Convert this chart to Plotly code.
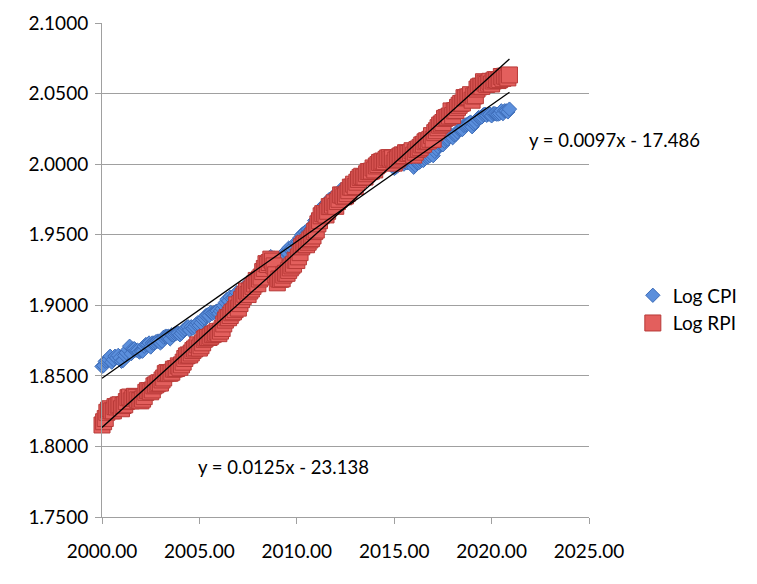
import numpy as np
import plotly.graph_objects as go

# Monthly observations, Jan 2000 .. Dec 2020 (one row per year)
years = list(range(2000, 2021))

log_cpi = [
    1.8567, 1.8573, 1.8603, 1.8609, 1.8615, 1.8639, 1.8597, 1.8615, 1.8639, 1.8627, 1.8645, 1.8627,
    1.8603, 1.8609, 1.8645, 1.8663, 1.8686, 1.8710, 1.8657, 1.8692, 1.8692, 1.8681, 1.8681, 1.8669,
    1.8675, 1.8675, 1.8710, 1.8722, 1.8722, 1.8733, 1.8704, 1.8733, 1.8733, 1.8739, 1.8745, 1.8745,
    1.8733, 1.8745, 1.8774, 1.8780, 1.8780, 1.8780, 1.8762, 1.8791, 1.8791, 1.8797, 1.8802, 1.8802,
    1.8791, 1.8802, 1.8820, 1.8831, 1.8842, 1.8848, 1.8825, 1.8848, 1.8837, 1.8848, 1.8865, 1.8876,
    1.8859, 1.8876, 1.8899, 1.8910, 1.8927, 1.8932, 1.8927, 1.8949, 1.8943, 1.8949, 1.8954, 1.8960,
    1.8943, 1.8960, 1.8976, 1.8998, 1.9020, 1.9042, 1.9031, 1.9058, 1.9047, 1.9053, 1.9069, 1.9090,
    1.9058, 1.9080, 1.9106, 1.9117, 1.9128, 1.9143, 1.9112, 1.9133, 1.9122, 1.9143, 1.9159, 1.9180,
    1.9154, 1.9186, 1.9212, 1.9243, 1.9269, 1.9304, 1.9299, 1.9335, 1.9345, 1.9335, 1.9335, 1.9315,
    1.9284, 1.9320, 1.9335, 1.9340, 1.9365, 1.9380, 1.9375, 1.9405, 1.9395, 1.9400, 1.9415, 1.9440,
    1.9435, 1.9450, 1.9479, 1.9499, 1.9509, 1.9518, 1.9509, 1.9538, 1.9528, 1.9538, 1.9557, 1.9600,
    1.9605, 1.9638, 1.9647, 1.9690, 1.9699, 1.9699, 1.9694, 1.9727, 1.9750, 1.9750, 1.9759, 1.9777,
    1.9759, 1.9782, 1.9796, 1.9818, 1.9818, 1.9800, 1.9805, 1.9832, 1.9845, 1.9868, 1.9877, 1.9895,
    1.9877, 1.9903, 1.9917, 1.9921, 1.9934, 1.9926, 1.9926, 1.9948, 1.9961, 1.9961, 1.9965, 1.9983,
    1.9956, 1.9978, 1.9987, 2.0000, 2.0000, 2.0009, 1.9996, 2.0013, 2.0013, 2.0017, 2.0009, 2.0004,
    1.9970, 1.9978, 1.9987, 1.9996, 2.0004, 2.0009, 2.0000, 2.0013, 2.0009, 2.0013, 2.0013, 2.0013,
    1.9978, 1.9991, 2.0009, 2.0009, 2.0017, 2.0026, 2.0026, 2.0039, 2.0048, 2.0052, 2.0060, 2.0078,
    2.0060, 2.0090, 2.0107, 2.0124, 2.0141, 2.0141, 2.0137, 2.0162, 2.0175, 2.0179, 2.0195, 2.0208,
    2.0187, 2.0208, 2.0212, 2.0228, 2.0245, 2.0245, 2.0245, 2.0274, 2.0278, 2.0282, 2.0290, 2.0298,
    2.0265, 2.0286, 2.0294, 2.0318, 2.0330, 2.0330, 2.0334, 2.0350, 2.0354, 2.0346, 2.0354, 2.0354,
    2.0342, 2.0358, 2.0358, 2.0354, 2.0354, 2.0358, 2.0378, 2.0358, 2.0378, 2.0378, 2.0370, 2.0390,
]

log_rpi = [
    1.8152, 1.8175, 1.8198, 1.8242, 1.8257, 1.8267, 1.8252, 1.8252, 1.8282, 1.8280, 1.8292, 1.8295,
    1.8267, 1.8290, 1.8295, 1.8318, 1.8345, 1.8350, 1.8323, 1.8340, 1.8355, 1.8348, 1.8330, 1.8325,
    1.8323, 1.8335, 1.8353, 1.8383, 1.8395, 1.8395, 1.8387, 1.8400, 1.8429, 1.8436, 1.8444, 1.8451,
    1.8449, 1.8471, 1.8485, 1.8516, 1.8523, 1.8519, 1.8519, 1.8526, 1.8547, 1.8550, 1.8552, 1.8571,
    1.8561, 1.8578, 1.8597, 1.8623, 1.8641, 1.8648, 1.8648, 1.8662, 1.8679, 1.8690, 1.8699, 1.8720,
    1.8697, 1.8713, 1.8734, 1.8759, 1.8768, 1.8772, 1.8772, 1.8781, 1.8792, 1.8797, 1.8804, 1.8815,
    1.8799, 1.8817, 1.8835, 1.8868, 1.8895, 1.8912, 1.8912, 1.8928, 1.8947, 1.8954, 1.8969, 1.9003,
    1.8980, 1.9012, 1.9040, 1.9061, 1.9078, 1.9101, 1.9076, 1.9101, 1.9115, 1.9134, 1.9151, 1.9176,
    1.9153, 1.9186, 1.9200, 1.9239, 1.9261, 1.9295, 1.9289, 1.9303, 1.9327, 1.9313, 1.9279, 1.9216,
    1.9159, 1.9186, 1.9184, 1.9188, 1.9214, 1.9227, 1.9227, 1.9247, 1.9265, 1.9279, 1.9291, 1.9319,
    1.9317, 1.9343, 1.9373, 1.9414, 1.9429, 1.9439, 1.9429, 1.9447, 1.9463, 1.9472, 1.9491, 1.9522,
    1.9533, 1.9577, 1.9599, 1.9634, 1.9649, 1.9649, 1.9640, 1.9666, 1.9699, 1.9701, 1.9710, 1.9726,
    1.9701, 1.9735, 1.9751, 1.9782, 1.9780, 1.9769, 1.9775, 1.9791, 1.9812, 1.9837, 1.9837, 1.9858,
    1.9841, 1.9872, 1.9892, 1.9906, 1.9914, 1.9909, 1.9909, 1.9932, 1.9947, 1.9947, 1.9951, 1.9973,
    1.9959, 1.9987, 1.9997, 2.0012, 2.0016, 2.0022, 2.0017, 2.0034, 2.0044, 2.0046, 2.0036, 2.0043,
    2.0007, 2.0029, 2.0036, 2.0051, 2.0059, 2.0066, 2.0061, 2.0081, 2.0078, 2.0076, 2.0081, 2.0095,
    2.0064, 2.0085, 2.0103, 2.0108, 2.0119, 2.0136, 2.0141, 2.0158, 2.0166, 2.0164, 2.0176, 2.0202,
    2.0176, 2.0223, 2.0237, 2.0258, 2.0276, 2.0285, 2.0295, 2.0324, 2.0330, 2.0333, 2.0341, 2.0377,
    2.0344, 2.0377, 2.0380, 2.0402, 2.0417, 2.0430, 2.0433, 2.0471, 2.0470, 2.0476, 2.0477, 2.0492,
    2.0453, 2.0483, 2.0485, 2.0532, 2.0547, 2.0553, 2.0551, 2.0584, 2.0574, 2.0565, 2.0574, 2.0587,
    2.0568, 2.0589, 2.0598, 2.0598, 2.0592, 2.0599, 2.0621, 2.0608, 2.0623, 2.0623, 2.0611, 2.0632,
]

cpi_equation = "y = 0.0097x - 17.486"
rpi_equation = "y = 0.0125x - 23.138"
x_ticks = [2000, 2005, 2010, 2015, 2020, 2025]
y_ticks = [1.75, 1.80, 1.85, 1.90, 1.95, 2.00, 2.05, 2.10]

# decimal-year time axis for the monthly observations
t = np.array([yr + m / 12.0 for yr in years for m in range(12)])
cpi = np.array(log_cpi)
rpi = np.array(log_rpi)

FONT = "Lato, 'Open Sans', sans-serif"
GRID = "#a0a0a0"

fig = go.Figure()

fig.add_trace(go.Scatter(
    x=t, y=cpi, mode="markers", name="Log CPI", cliponaxis=False,
    marker=dict(symbol="diamond", size=11, color="#5b8fdc",
                line=dict(color="#3d6cb8", width=1)),
))
fig.add_trace(go.Scatter(
    x=t, y=rpi, mode="markers", name="Log RPI", cliponaxis=False,
    marker=dict(symbol="square", size=16, color="#e35f5d",
                line=dict(color="#b83a38", width=1)),
))

# linear trendlines (least squares) across the data span
for series in (cpi, rpi):
    k, b = np.polyfit(t, series, 1)
    xs = np.array([t[0], t[-1]])
    fig.add_trace(go.Scatter(
        x=xs, y=k * xs + b, mode="lines", showlegend=False, hoverinfo="skip",
        line=dict(color="black", width=1.3), cliponaxis=False,
    ))

fig.add_annotation(text=cpi_equation, xref="paper", yref="paper",
                   x=0.8727, y=0.7632, xanchor="left", yanchor="middle",
                   showarrow=False, font=dict(family=FONT, size=18.5, color="black"))
fig.add_annotation(text=rpi_equation, xref="paper", yref="paper",
                   x=0.1930, y=0.1012, xanchor="left", yanchor="middle",
                   showarrow=False, font=dict(family=FONT, size=18.5, color="black"))

# the page body adds an 8px offset, so the margins are reduced accordingly
fig.update_layout(
    width=757, height=584,
    margin=dict(l=94, r=176, t=15, b=75, autoexpand=False),
    paper_bgcolor="white", plot_bgcolor="white",
    font=dict(family=FONT, size=19, color="black"),
    showlegend=True,
    legend=dict(x=1.09, y=0.487, xanchor="left", yanchor="top",
                bgcolor="rgba(0,0,0,0)", font=dict(family=FONT, size=19, color="black"),
                itemsizing="trace", tracegroupgap=2),
    xaxis=dict(range=[2000, 2025], tickvals=x_ticks, tickformat=".2f", automargin=False,
               showgrid=False, zeroline=False, showline=True, linecolor=GRID, linewidth=1,
               ticks="outside", ticklen=6, tickcolor=GRID, ticklabelstandoff=11,
               tickfont=dict(family=FONT, size=19, color="black")),
    yaxis=dict(range=[1.75, 2.1], tickvals=y_ticks, tickformat=".4f", automargin=False,
               showgrid=True, gridcolor=GRID, gridwidth=1, zeroline=False,
               showline=True, linecolor=GRID, linewidth=1,
               ticks="outside", ticklen=6, tickcolor=GRID, ticklabelstandoff=3,
               tickfont=dict(family=FONT, size=19, color="black")),
)

fig.write_html("out.html")
